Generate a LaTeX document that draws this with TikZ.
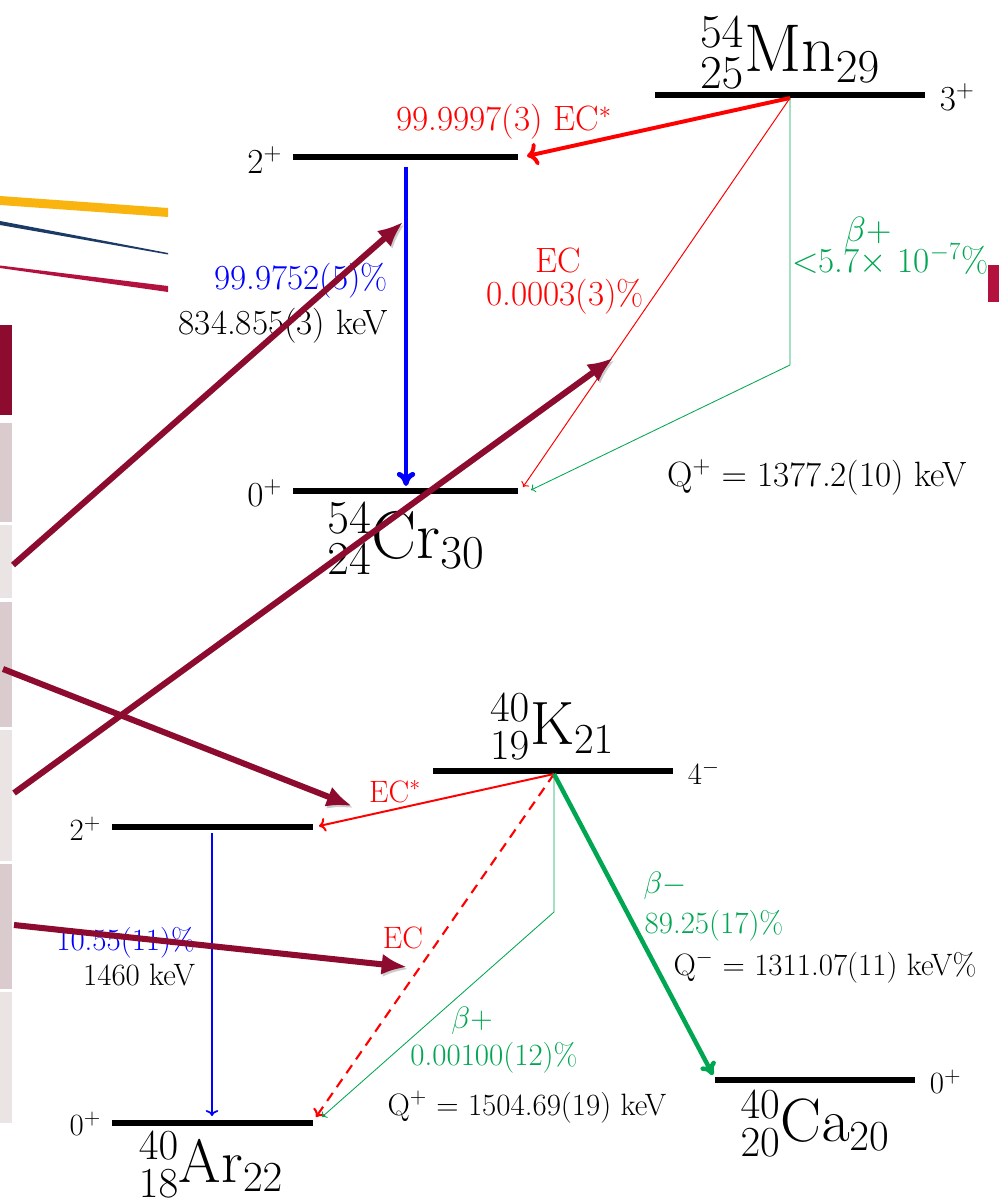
\RequirePackage{fix-cm}
\documentclass[tikz,border=0pt]{standalone}
\definecolor{ecred}{HTML}{FF0000}
\definecolor{gblue}{HTML}{0000FF}
\definecolor{betag}{HTML}{00A651}
\definecolor{slidered}{HTML}{8C0B2E}
\definecolor{crimson}{HTML}{B3123E}
\definecolor{gold}{HTML}{F9B410}
\definecolor{navy}{HTML}{1B3A66}
\definecolor{cellA}{HTML}{D9CBCE}
\definecolor{cellB}{HTML}{EBE4E5}
\usetikzlibrary{calc, positioning, arrows.meta}

\begin{document}
\begin{tikzpicture}[x=0.025cm, y=-0.025cm,
  level/.style={line width=3.6pt},
  lbl/.style={font=\fontsize{25}{30}\selectfont},
  lblk/.style={font=\fontsize{22}{26}\selectfont},
  iso/.style={font=\fontsize{48}{54}\selectfont},
  isok/.style={font=\fontsize{43.5}{50}\selectfont},
  pointer/.style={slidered, line width=4.3pt, -{Latex[length=18pt,width=15pt]},
    preaction={draw=black, opacity=0.2, transform canvas={shift={(1.2pt,-1.5pt)}}}}]
  \useasboundingbox (0,0) rectangle (999,1201);

  \fill[gold] (0,196) -- (168,208) -- (168,217) -- (0,205) -- cycle;
  \fill[navy] (0,221) -- (168,253) -- (168,254.5) -- (0,225) -- cycle;
  \fill[crimson] (0,265.5) -- (168,286) -- (168,292) -- (0,268) -- cycle;
  \fill[slidered] (0,325) rectangle (12,415);
  \foreach \ya/\yb/\c in {423/522/cellA, 525/598/cellB, 602/727/cellA,
    730/861/cellB, 864/989/cellA, 992/1123/cellB}
    \fill[\c] (0,\ya) rectangle (12,\yb);
  \fill[crimson] (988,265) rectangle (999,302);

  \foreach \n/\xa/\xb/\y in {mn/655/925/95, crB/293/518/157, crA/293/518/491,
    k/433/673/771, arB/112/313/827, arA/112/313/1123, ca/715/915/1080} {
    \coordinate (\n L) at (\xa,\y);
    \coordinate (\n R) at (\xb,\y);
    \draw[level] (\n L) -- (\n R);
  }

  \foreach \n/\x/\y/\a/\t/\s in {sMn/935/97/west/3^+/lbl, sCrB/287/160/east/2^+/lbl,
    sCrA/287/493/east/0^+/lbl, sK/683/773/west/4^-/lblk, sArB/106/829/east/2^+/lblk,
    sArA/106/1124/east/0^+/lblk, sCa/925/1082/west/0^+/lblk}
    \node[\s, anchor=\a] (\n) at (\x,\y) {$\t$};

  \node[iso, anchor=base] (mn) at (790,72) {${}^{54}_{25}\mathrm{Mn}_{29}$};
  \node[iso, anchor=base] (cr) at (406,558) {${}^{54}_{24}\mathrm{Cr}_{30}$};
  \node[isok, anchor=base] (k) at (552,744) {${}^{40}_{19}\mathrm{K}_{21}$};
  \node[isok, anchor=base] (ar) at (211,1182) {${}^{40}_{18}\mathrm{Ar}_{22}$};
  \node[isok, anchor=base] (ca) at (815,1141) {${}^{40}_{20}\mathrm{Ca}_{20}$};

  \coordinate (mnO) at (790,98);
  \coordinate (mnBend) at (790,365);
  \coordinate (crBin) at (527,156);
  \coordinate (crAec) at (523,487);
  \coordinate (crAbp) at (531,490);
  \coordinate (crBg) at (406,167);
  \coordinate (crAg) at (406,486);
  \draw[ecred, line width=2.8pt, ->] (mnO) -- (crBin);
  \draw[ecred, line width=0.7pt, ->] (mnO) -- (crAec);
  \draw[betag, line width=0.6pt, ->] (mnO) -- (mnBend) -- (crAbp);
  \draw[gblue, line width=3.5pt, -{To[length=10pt,width=13pt]}] (crBg) -- (crAg);

  \node[lbl, ecred, anchor=base] (ecMn) at (504,131) {99.9997(3) EC$^*$};
  \node[lbl, gblue, anchor=base east] (gIntCr) at (393,289) {99.9752(5)\%};
  \node[lbl, anchor=base east] (gECr) at (393,334) {834.855(3) keV};
  \node[lbl, ecred, anchor=base] (ecCr) at (558,272) {EC};
  \node[lbl, ecred, anchor=base] (ecCrI) at (565,305) {0.0003(3)\%};
  \node[lbl, betag, anchor=base] (bpMn) at (868,241) {$\beta+$};
  \node[lbl, betag, anchor=base] (bpMnI) at (890,272) {$<$5.7$\times$ 10$^{-7}$\%};
  \node[lbl, anchor=base] (qMn) at (817,486) {Q$^+$ $=$ 1377.2(10) keV};

  \coordinate (kO) at (554,774);
  \coordinate (kBend) at (554,912);
  \coordinate (arBin) at (319,826);
  \coordinate (arAec) at (316,1117);
  \coordinate (arAbp) at (322,1117);
  \coordinate (caIn) at (713,1075);
  \coordinate (arBg) at (212,833);
  \coordinate (arAg) at (212,1116);
  \draw[ecred, line width=1.4pt, ->] (kO) -- (arBin);
  \draw[ecred, line width=1.5pt, dash pattern=on 7pt off 5pt, ->] (kO) -- (arAec);
  \draw[betag, line width=0.6pt, ->] (kO) -- (kBend) -- (arAbp);
  \draw[betag, line width=3.2pt, -{To[length=9pt,width=12pt]}] (kO) -- (caIn);
  \draw[gblue, line width=1.2pt, ->] (arBg) -- (arAg);

  \node[lblk, ecred, anchor=base] (ecK) at (395,802) {EC$^*$};
  \node[lblk, gblue, anchor=base east] (gIntAr) at (200,950) {10.55(11)\%};
  \node[lblk, anchor=base east] (gEAr) at (200,985) {1460 keV};
  \node[lblk, ecred, anchor=base] (ecKA) at (403,948) {EC};
  \node[lblk, betag, anchor=base] (bpK) at (472,1028) {$\beta+$};
  \node[lblk, betag, anchor=base] (bpKI) at (494,1065) {0.00100(12)\%};
  \node[lblk, anchor=base] (qpK) at (527,1115) {Q$^+$ $=$ 1504.69(19) keV};
  \node[lblk, betag, anchor=base] (bmK) at (665,893) {$\beta-$};
  \node[lblk, betag, anchor=base] (bmKI) at (714,933) {89.25(17)\%};
  \node[lblk, anchor=base] (qmK) at (825,975) {Q$^-$ $=$ 1311.07(11) keV\%};

  \foreach \n/\xa/\ya/\xb/\yb in {pA/13/565/403/222, pB/14/793/613/358,
    pC/3/669/352/806, pD/14/925/407/967} {
    \coordinate (\n s) at (\xa,\ya);
    \coordinate (\n e) at (\xb,\yb);
    \draw[pointer] (\n s) -- (\n e);
  }
\end{tikzpicture}
\end{document}
